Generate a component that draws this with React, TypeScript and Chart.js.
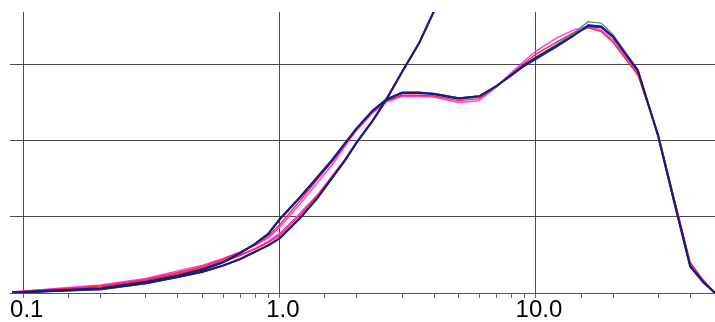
import React, { useEffect, useRef } from "react";
import { Chart, registerables } from "chart.js";

Chart.register(...registerables);

// Particle size (x, log scale)
const sizes = [0.09, 0.2, 0.3, 0.4, 0.5, 0.6, 0.7, 0.8, 0.9, 1.0, 1.2, 1.4, 1.6, 1.8, 2.0, 2.3, 2.6, 3.0, 3.5, 4.0, 5.0, 6.0, 7.0, 8.0, 9.0, 10, 12, 14, 16, 18, 20, 25, 30, 35, 40, 45, 50];
const sizesB = [0.09, 0.2, 0.3, 0.4, 0.5, 0.6, 0.7, 0.8, 0.9, 1.0, 1.2, 1.4, 1.6, 1.8, 2.0, 2.3, 2.6, 3.0, 3.5, 4.0, 4.5];

// Distribution curves
const navyA = [0.01, 0.12, 0.29, 0.46, 0.62, 0.81, 1.05, 1.29, 1.55, 1.94, 2.52, 3.04, 3.49, 3.94, 4.33, 4.78, 5.07, 5.25, 5.25, 5.22, 5.10, 5.16, 5.43, 5.72, 5.98, 6.17, 6.48, 6.76, 7.01, 6.98, 6.72, 5.83, 4.12, 2.28, 0.71, 0.29, 0];
const blueA = [0.01, 0.11, 0.28, 0.45, 0.61, 0.80, 1.04, 1.28, 1.54, 1.92, 2.50, 3.02, 3.47, 3.93, 4.32, 4.78, 5.08, 5.27, 5.27, 5.24, 5.12, 5.17, 5.42, 5.70, 5.95, 6.13, 6.45, 6.74, 7.04, 7.00, 6.74, 5.85, 4.10, 2.25, 0.68, 0.27, 0];
const tealA = [0.01, 0.12, 0.29, 0.46, 0.62, 0.81, 1.05, 1.29, 1.55, 1.93, 2.51, 3.03, 3.48, 3.93, 4.33, 4.79, 5.08, 5.26, 5.26, 5.23, 5.12, 5.17, 5.44, 5.73, 6.00, 6.20, 6.52, 6.82, 7.12, 7.08, 6.78, 5.86, 4.14, 2.30, 0.73, 0.30, 0];
const redA = [0.02, 0.18, 0.35, 0.54, 0.70, 0.88, 1.07, 1.27, 1.49, 1.80, 2.42, 2.98, 3.44, 3.90, 4.31, 4.76, 5.04, 5.19, 5.19, 5.17, 5.05, 5.10, 5.42, 5.74, 6.03, 6.27, 6.58, 6.83, 6.96, 6.86, 6.58, 5.72, 4.15, 2.34, 0.78, 0.33, 0];
const magentaA = [0.03, 0.21, 0.38, 0.58, 0.73, 0.91, 1.08, 1.25, 1.44, 1.73, 2.34, 2.89, 3.36, 3.86, 4.28, 4.72, 5.01, 5.16, 5.16, 5.14, 5.00, 5.05, 5.40, 5.78, 6.09, 6.35, 6.69, 6.90, 7.00, 6.90, 6.64, 5.77, 4.17, 2.36, 0.81, 0.34, 0];

// Rising curves
const navyB = [0.01, 0.10, 0.26, 0.42, 0.56, 0.72, 0.89, 1.08, 1.25, 1.44, 1.97, 2.49, 3.02, 3.49, 3.96, 4.51, 5.07, 5.80, 6.56, 7.40, 8.06];
const blueB = [0.01, 0.09, 0.25, 0.41, 0.55, 0.71, 0.88, 1.07, 1.24, 1.43, 1.96, 2.48, 3.01, 3.49, 3.96, 4.52, 5.08, 5.81, 6.57, 7.41, 8.07];
const redB = [0.02, 0.16, 0.33, 0.50, 0.65, 0.81, 0.98, 1.15, 1.32, 1.52, 2.05, 2.55, 3.05, 3.51, 3.97, 4.52, 5.07, 5.80, 6.56, 7.40, 8.06];
const magentaB = [0.03, 0.19, 0.36, 0.53, 0.68, 0.84, 1.00, 1.17, 1.35, 1.57, 2.10, 2.57, 3.07, 3.52, 3.98, 4.52, 5.07, 5.80, 6.56, 7.40, 8.06];

const xMajorLabels: [number, string][] = [[0.1, "0.1"], [1, "1.0"], [10, "10.0"]];
const yGridValues = [2, 4, 6];

const isMajor = (v: number) => xMajorLabels.some(([m]) => Math.abs(v - m) < 1e-9);

function pts(xs: number[], ys: number[]) {
  return ys.map((y, i) => ({ x: xs[i], y }));
}

export default function App() {
  const ref = useRef<HTMLCanvasElement | null>(null);
  useEffect(() => {
    if (!ref.current) return;
    const mk = (data: any, color: string, width: number) => ({
      data,
      borderColor: color,
      borderWidth: width,
      pointRadius: 0,
      tension: 0,
      fill: false,
    });
    const chart = new Chart(ref.current, {
      type: "line",
      data: {
        datasets: [
          mk(pts(sizes, navyA), "#1c1c78", 2.2),
          mk(pts(sizesB, navyB), "#1c1c78", 2.2),
          mk(pts(sizes, blueA), "#2a2ae8", 1.4),
          mk(pts(sizesB, blueB), "#2a2ae8", 1.4),
          mk(pts(sizes, tealA), "#3c9088", 1.2),
          mk(pts(sizes, redA), "#ff2a2a", 1.4),
          mk(pts(sizesB, redB), "#ff2a2a", 1.4),
          mk(pts(sizes, magentaA), "#ff33ff", 1.4),
          mk(pts(sizesB, magentaB), "#ff33ff", 1.4),
        ],
      },
      options: {
        animation: false,
        responsive: false,
        parsing: true,
        layout: { padding: { left: 10, top: 12, right: 0, bottom: 0 } },
        plugins: { legend: { display: false }, tooltip: { enabled: false } },
        scales: {
          x: {
            type: "logarithmic",
            min: 0.0884,
            max: 50,
            border: { display: true, color: "#555", width: 1 },
            grid: {
              color: (ctx: any) => (ctx.tick && isMajor(ctx.tick.value) ? "#4a4a4a" : "rgba(0,0,0,0)"),
              tickColor: (ctx: any) => (ctx.tick && ctx.tick.value < 0.0895 ? "rgba(0,0,0,0)" : "#666"),
              tickLength: 5,
              drawTicks: true,
              lineWidth: 1,
            },
            ticks: {
              autoSkip: false,
              maxRotation: 0,
              minRotation: 0,
              padding: 0,
              labelOffset: 3,
              color: "#000",
              font: { family: "'Liberation Sans', Arial, sans-serif", size: 24, lineHeight: 1 },
              callback: (v: any) => {
                const f = xMajorLabels.find(([m]) => Math.abs(Number(v) - m) < 1e-9);
                return f ? f[1] : "";
              },
            },
          },
          y: {
            type: "linear",
            min: 0,
            max: 7.375,
            afterBuildTicks: (scale: any) => {
              scale.ticks = yGridValues.map((value) => ({ value }));
            },
            border: { display: false },
            grid: { color: "#4a4a4a", lineWidth: 1, drawTicks: false },
            ticks: { display: false },
          },
        },
      },
    } as any);
    return () => chart.destroy();
  }, []);
  return (
    <div style={{ position: "fixed", left: 0, top: 0, width: 715, height: 322, background: "#fff" }}>
      <canvas ref={ref} width={715} height={322} style={{ display: "block" }} />
    </div>
  );
}
